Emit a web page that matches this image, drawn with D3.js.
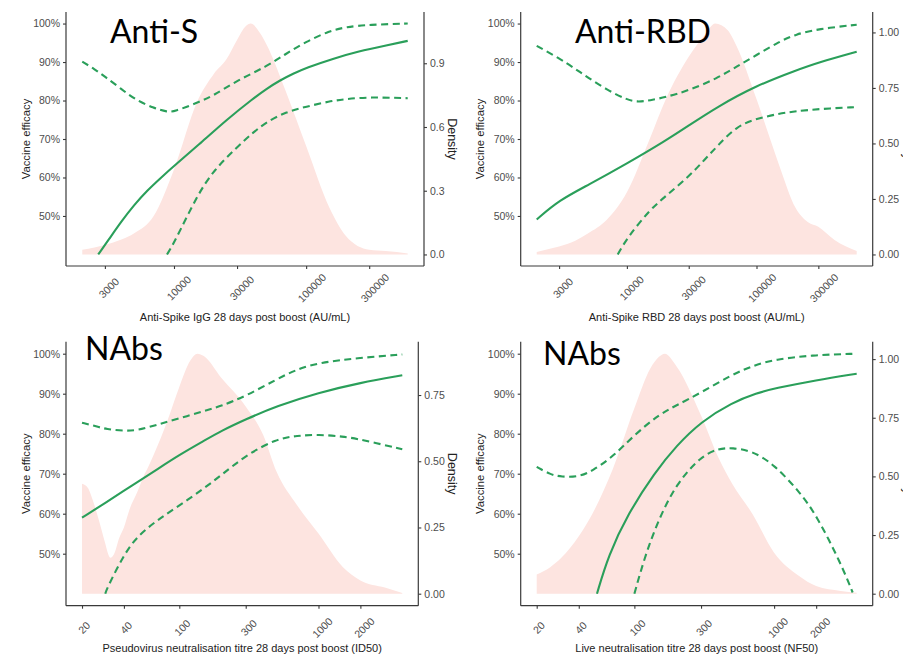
<!DOCTYPE html>
<html>
<head>
<meta charset="utf-8">
<script src="https://cdn.jsdelivr.net/npm/d3@7"></script>
<style>
  html, body { margin: 0; padding: 0; background: #ffffff; }
  svg { display: block; }
</style>
</head>
<body>
<svg id="chart" width="903" height="655"></svg>
<script>
// ---------------- DATA ----------------
const efficacyTicks = [50, 60, 70, 80, 90, 100];
const spikeTicks = [3000, 10000, 30000, 100000, 300000];
const titreTicks = [20, 40, 100, 300, 1000, 2000];
const densityTicksS = [0, 0.3, 0.6, 0.9];
const densityTicksRBD = [0, 0.25, 0.5, 0.75, 1.0];
const densityTicksPseudo = [0, 0.25, 0.5, 0.75];
const densityTicksLive = [0, 0.25, 0.5, 0.75, 1.0];

// Panel 1: Anti-S  (x = AU/mL, density / efficacy %)
const antiS_density = [[2023,0.022],[2500,0.033],[3000,0.045],[4000,0.07],[5000,0.10],[7000,0.18],[10000,0.40],[15000,0.72],[20000,0.85],[25000,0.92],[30000,1.01],[35000,1.075],[38000,1.087],[45000,1.04],[50000,0.99],[70000,0.77],[100000,0.51],[150000,0.22],[200000,0.087],[300000,0.022],[400000,0.016],[587000,0.005]];
const antiS_fit = [[2670,40],[3200,43.8],[4000,48.6],[5000,52.9],[6300,56.7],[8000,60.0],[10000,63.0],[16000,69.0],[25000,75.0],[40000,80.6],[50000,83.0],[63000,85.2],[80000,87.0],[100000,88.5],[160000,90.9],[250000,92.8],[400000,94.3],[587000,95.5]];
const antiS_upper = [[2023,90.1],[2500,88.2],[3000,86.2],[4000,83.0],[5000,80.4],[7000,78.0],[9000,77.0],[10000,77.1],[15000,79.4],[20000,81.3],[30000,85.2],[50000,88.8],[70000,92.1],[100000,95.3],[150000,98.1],[200000,99.1],[300000,99.7],[587000,100]];
const antiS_lower = [[8850,40],[10000,42.9],[15000,55.4],[20000,61.9],[30000,67.9],[40000,71.8],[50000,74.4],[70000,77.0],[100000,78.4],[150000,79.8],[200000,80.4],[300000,80.9],[587000,80.6]];

// Panel 2: Anti-RBD
const antiRBD_density = [[2015,0.011],[2500,0.025],[3000,0.036],[4000,0.062],[5000,0.094],[7000,0.156],[10000,0.28],[15000,0.52],[20000,0.70],[30000,0.89],[40000,0.99],[48000,1.04],[60000,1.01],[70000,0.94],[100000,0.70],[150000,0.40],[200000,0.21],[250000,0.145],[300000,0.125],[400000,0.065],[593000,0.015]];
const antiRBD_fit = [[2015,49.1],[3000,54.1],[5000,58.0],[10000,63.6],[20000,69.6],[30000,73.5],[50000,78.4],[100000,83.9],[200000,87.8],[300000,89.9],[593000,92.7]];
const antiRBD_upper = [[2015,94.2],[3000,91.0],[4000,88.2],[5000,86.0],[7000,82.8],[10000,80.2],[12000,79.6],[15000,80.0],[20000,80.9],[30000,82.6],[50000,85.8],[70000,88.8],[100000,91.8],[150000,95.3],[200000,97.2],[300000,98.6],[593000,99.7]];
const antiRBD_lower = [[8500,40],[10000,44.2],[15000,51.6],[20000,55.2],[30000,60.2],[40000,64.7],[50000,68.2],[70000,73.3],[100000,75.3],[150000,76.6],[200000,77.2],[300000,77.8],[593000,78.3]];

// Panel 3: Pseudovirus neutralisation (ID50)
const pseudo_density = [[20,0.415],[22,0.40],[24,0.35],[27,0.26],[29,0.20],[32,0.136],[34,0.15],[37,0.21],[40,0.25],[44,0.32],[50,0.385],[55,0.44],[60,0.48],[70,0.56],[85,0.675],[100,0.78],[120,0.88],[135,0.906],[150,0.897],[200,0.815],[300,0.707],[400,0.60],[500,0.46],[700,0.335],[1000,0.227],[1500,0.10],[2000,0.05],[3000,0.023],[4000,0.003]];
const pseudo_fit = [[20,59.0],[30,62.9],[40,65.75],[50,67.9],[70,71.2],[100,74.7],[150,78.2],[200,80.7],[300,83.6],[500,86.9],[1000,90.25],[2000,92.75],[4000,94.6]];
const pseudo_upper = [[20,82.75],[25,81.9],[30,81.1],[40,80.7],[50,80.8],[70,82.3],[100,83.8],[150,85.7],[200,86.9],[300,89.4],[500,93.6],[700,96.1],[1000,97.75],[2000,99.0],[4000,99.8]];
const pseudo_lower = [[29.4,40],[30,41.1],[40,49.8],[50,54.4],[70,58.5],[100,62.0],[150,66.3],[200,69.6],[300,74.6],[500,78.75],[700,79.5],[1000,79.8],[1500,79.3],[2000,78.6],[4000,76.1]];

// Panel 4: Live neutralisation (NF50)
const live_density = [[20,0.082],[25,0.113],[30,0.153],[40,0.245],[50,0.34],[70,0.53],[100,0.79],[130,0.96],[150,1.01],[165,1.023],[200,0.97],[300,0.76],[400,0.58],[500,0.47],[700,0.34],[1000,0.175],[1500,0.077],[2000,0.033],[3000,0.012],[3900,0.004]];
const live_fit = [[54,40],[65,49.5],[90,60],[140,70.3],[200,77.0],[300,83.0],[500,87.8],[757,90.2],[1000,91.3],[2000,93.4],[3900,95.0]];
const live_upper = [[20,71.7],[25,69.8],[30,69.2],[40,69.2],[50,70.7],[70,74.2],[100,79.7],[150,84.8],[200,87.1],[300,90.25],[500,94.8],[700,96.9],[1000,98.6],[2000,99.7],[3900,100]];
const live_lower = [[100,40],[120,49.8],[150,58.75],[200,67.5],[300,74.4],[400,76.3],[500,76.5],[700,75.7],[1000,72.3],[1500,65.7],[2000,59.8],[3000,47.6],[3650,40.3]];

// ---------------- LAYOUT ----------------
const panels = [
  { title: "Anti-S", titleX: 110, titleY: 43, left: 66, right: 424, top: 12, bottom: 266,
    xTitle: "Anti-Spike IgG 28 days post boost (AU/mL)", xTitleY: 321, yTitleX: 26, dTitleX: 452.5,
    xTicks: spikeTicks, dTicks: densityTicksS, dFmt: ".1f",
    density: antiS_density, fit: antiS_fit, upper: antiS_upper, lower: antiS_lower },
  { title: "Anti-RBD", titleX: 575, titleY: 43, left: 520.7, right: 872.7, top: 12, bottom: 266,
    xTitle: "Anti-Spike RBD 28 days post boost (AU/mL)", xTitleY: 321, yTitleX: 480, dTitleX: 908,
    xTicks: spikeTicks, dTicks: densityTicksRBD, dFmt: ".2f",
    density: antiRBD_density, fit: antiRBD_fit, upper: antiRBD_upper, lower: antiRBD_lower },
  { title: "NAbs", titleX: 85, titleY: 360, left: 66, right: 418.3, top: 341.7, bottom: 605.7,
    xTitle: "Pseudovirus neutralisation titre 28 days post boost (ID50)", xTitleY: 652, yTitleX: 26, dTitleX: 452.5,
    xTicks: titreTicks, dTicks: densityTicksPseudo, dFmt: ".2f",
    density: pseudo_density, fit: pseudo_fit, upper: pseudo_upper, lower: pseudo_lower },
  { title: "NAbs", titleX: 543, titleY: 365, left: 520.7, right: 872.7, top: 341.7, bottom: 605.7,
    xTitle: "Live neutralisation titre 28 days post boost (NF50)", xTitleY: 652, yTitleX: 480, dTitleX: 908,
    xTicks: titreTicks, dTicks: densityTicksLive, dFmt: ".2f",
    density: live_density, fit: live_fit, upper: live_upper, lower: live_lower }
];

const GREEN = "#2a9f5a";
const PINK = "#fde4e0";
const AXIS = "#3a3a3a";
const TICKTXT = "#4d4d4d";
const FONT = "'Liberation Sans', Arial, sans-serif";

const svg = d3.select("#chart");
svg.append("rect").attr("width", 903).attr("height", 655).attr("fill", "#fff");

function drawPanel(p) {
  const g = svg.append("g");
  const ext = d3.extent(p.density, d => d[0]);
  const l0 = Math.log10(ext[0]), l1 = Math.log10(ext[1]), pad = (l1 - l0) * 0.05;
  const x = d3.scaleLog().domain([Math.pow(10, l0 - pad), Math.pow(10, l1 + pad)]).range([p.left, p.right]);
  const y = d3.scaleLinear().domain([37, 103]).range([p.bottom, p.top]);
  const dMax = d3.max(p.density, d => d[1]);
  const yd = d3.scaleLinear().domain([0, dMax]).range([y(40), y(100)]);

  // density area
  g.append("path").datum(p.density)
    .attr("d", d3.area().x(d => x(d[0])).y0(yd(0)).y1(d => yd(d[1])).curve(d3.curveMonotoneX))
    .attr("fill", PINK);

  const line = d3.line().x(d => x(d[0])).y(d => y(d[1])).curve(d3.curveBasis);
  [["upper", true], ["lower", true], ["fit", false]].forEach(([k, dashed]) => {
    g.append("path").datum(p[k]).attr("d", line)
      .attr("fill", "none").attr("stroke", GREEN).attr("stroke-width", 2.1)
      .attr("stroke-dasharray", dashed ? "7,4.5" : null);
  });

  // axes
  const ax = (sel) => {
    sel.selectAll(".domain").remove();
    sel.selectAll(".tick line").attr("stroke", AXIS).attr("stroke-width", 1.1);
    sel.selectAll(".tick text").attr("fill", TICKTXT).style("font-family", FONT);
  };
  const gl = g.append("g").attr("transform", `translate(${p.left},0)`)
    .call(d3.axisLeft(y).tickValues(efficacyTicks).tickFormat(d => d + "%").tickSize(3).tickPadding(3))
    .call(ax);
  gl.selectAll("text").style("font-size", "10.5px");
  const gr = g.append("g").attr("transform", `translate(${p.right},0)`)
    .call(d3.axisRight(yd).tickValues(p.dTicks).tickFormat(d3.format(p.dFmt)).tickSize(3).tickPadding(3))
    .call(ax);
  gr.selectAll("text").style("font-size", "10.5px");
  const gb = g.append("g").attr("transform", `translate(0,${p.bottom})`)
    .call(d3.axisBottom(x).tickValues(p.xTicks).tickFormat(d3.format("d")).tickSize(3))
    .call(ax);
  gb.selectAll(".tick text").style("font-size", "10.5px").each(function () {
    const t = d3.select(this);
    const L = this.getComputedTextLength();
    t.attr("x", 0).attr("y", 0).attr("dy", "0.35em").attr("text-anchor", "middle")
      .attr("transform", `translate(${0.15 * L},22) rotate(-45)`);
  });

  // axis lines
  const lines = [[p.left, p.top, p.left, p.bottom], [p.right, p.top, p.right, p.bottom], [p.left, p.bottom, p.right, p.bottom]];
  lines.forEach(a => g.append("line").attr("x1", a[0]).attr("y1", a[1]).attr("x2", a[2]).attr("y2", a[3])
    .attr("stroke", AXIS).attr("stroke-width", 1.2));

  // axis titles
  g.append("text").attr("x", (p.left + p.right) / 2).attr("y", p.xTitleY)
    .attr("text-anchor", "middle").style("font-family", FONT).style("font-size", "11px").attr("fill", "#222")
    .text(p.xTitle);
  const cy = (p.top + p.bottom) / 2;
  g.append("text").attr("transform", `translate(${p.yTitleX},${cy}) rotate(-90)`)
    .attr("text-anchor", "middle").attr("dy", "0.35em").style("font-family", FONT).style("font-size", "11.3px").attr("fill", "#222")
    .text("Vaccine efficacy");
  g.append("text").attr("transform", `translate(${p.dTitleX},${cy}) rotate(90)`)
    .attr("text-anchor", "middle").attr("dy", "0.35em").style("font-family", FONT).style("font-size", "12.5px").attr("fill", "#222")
    .text("Density");

  // panel label
  g.append("text").attr("x", p.titleX).attr("y", p.titleY)
    .style("font-family", "Lato, 'Open Sans', sans-serif").style("font-size", "32px").attr("fill", "#000")
    .text(p.title);
}

panels.forEach(drawPanel);
</script>
</body>
</html>
